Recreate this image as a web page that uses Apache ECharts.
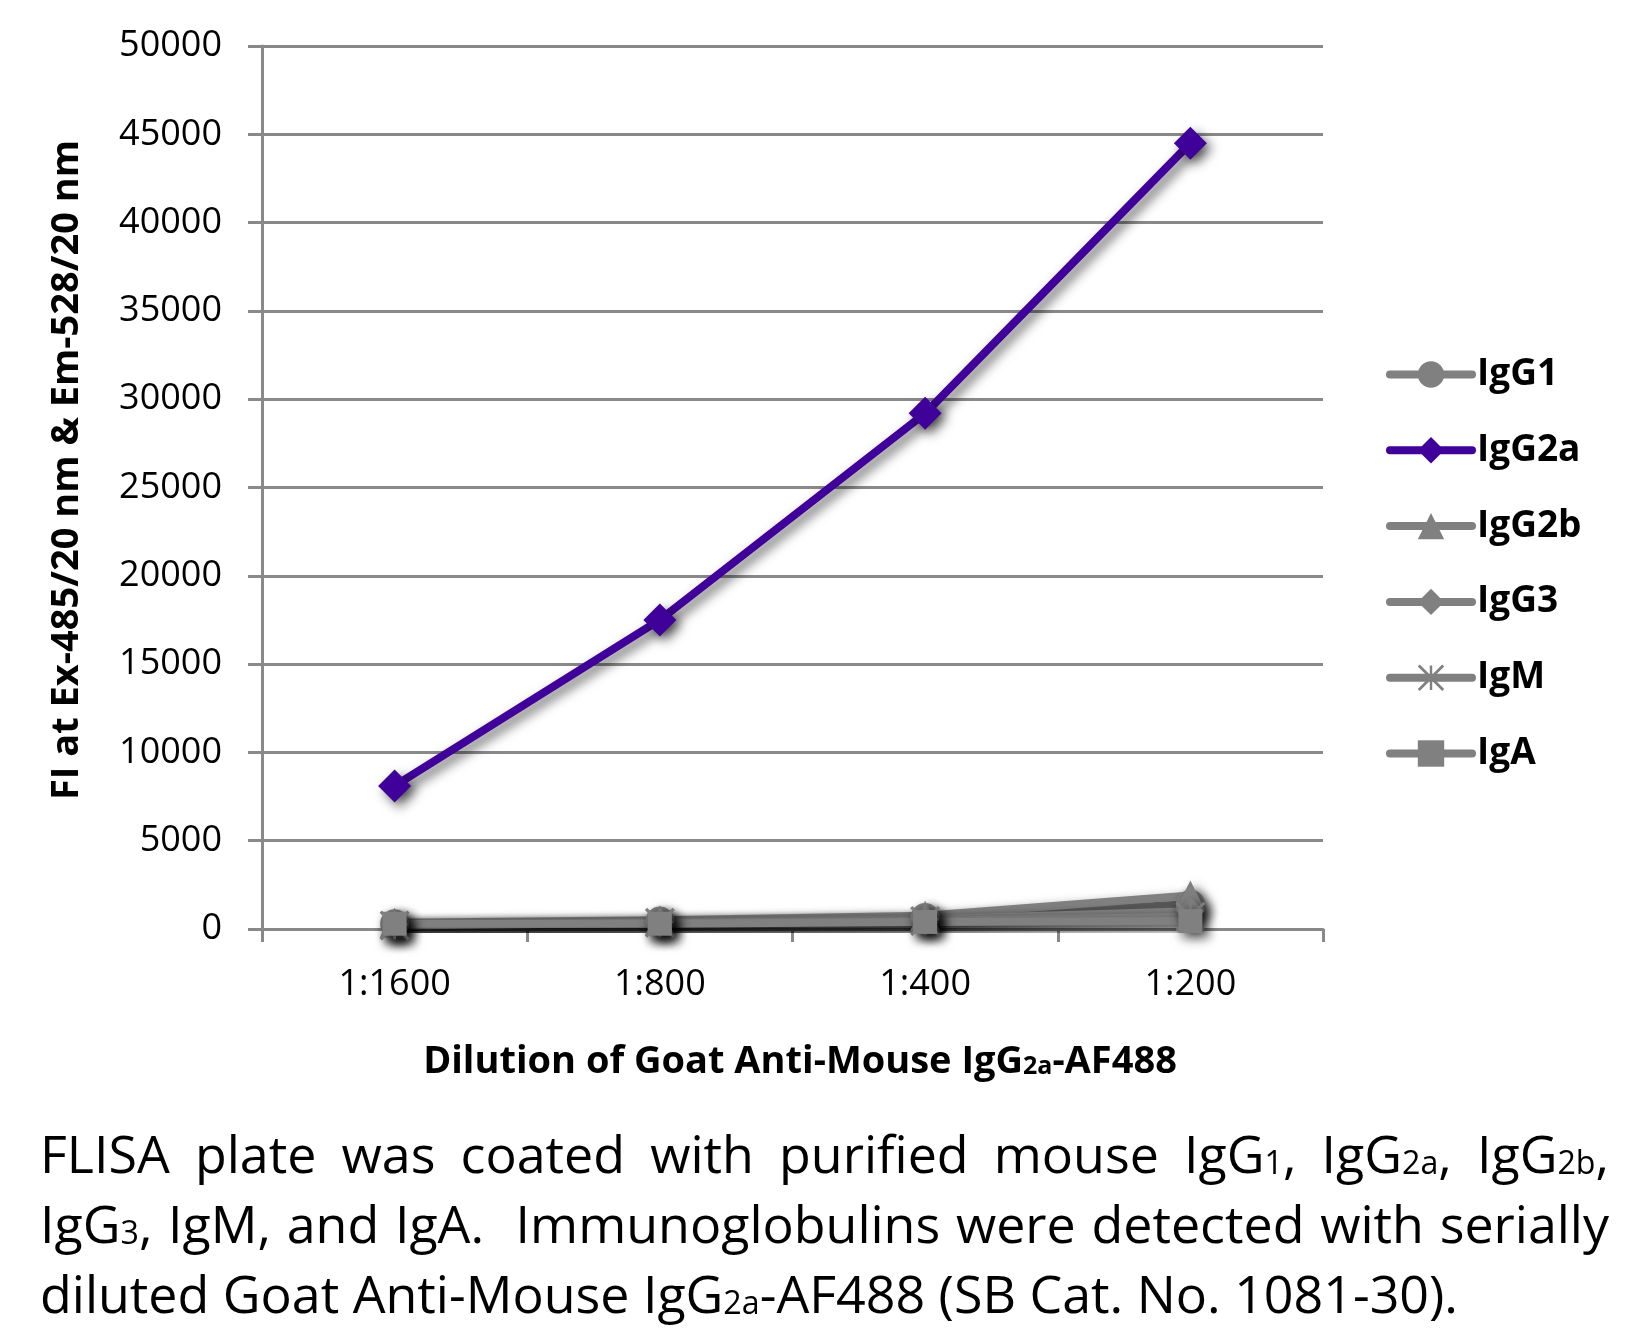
<!DOCTYPE html>
<html>
<head>
<meta charset="utf-8">
<script src="https://cdn.jsdelivr.net/npm/echarts@6/dist/echarts.min.js"></script>
<style>
  html, body { margin: 0; padding: 0; background: #fff; }
  #chart { position: absolute; left: 0; top: 0; width: 1633px; height: 1328px; }
  #caption {
    position: absolute; left: 40px; top: 1118px;
    font-family: "Open Sans", sans-serif; font-size: 52px;
    color: #000; transform-origin: left top; white-space: nowrap;
  }
  #caption .ln { height: 70px; line-height: 70px; text-align: justify; text-align-last: justify; }
  #caption .last { text-align: left; text-align-last: left; }
  #caption .sub { font-size: 0.62em; line-height: 0; position: relative; top: 0.04em; }
</style>
</head>
<body>
<div id="chart"></div>
<div id="caption">
  <div class="ln">FLISA plate was coated with purified mouse IgG<span class="sub">1</span>, IgG<span class="sub">2a</span>, IgG<span class="sub">2b</span>,</div>
  <div class="ln">IgG<span class="sub">3</span>, IgM, and IgA.&nbsp; Immunoglobulins were detected with serially</div>
  <div class="ln last"><span id="l3">diluted Goat Anti-Mouse IgG<span class="sub">2a</span>-AF488 (SB Cat. No. 1081-30).</span></div>
</div>
<script>
const dilutions = ['1:1600', '1:800', '1:400', '1:200'];
const seriesNames = ['IgG1', 'IgG2a', 'IgG2b', 'IgG3', 'IgM', 'IgA'];
const igG1 = [300, 450, 650, 1400];
const igG2a = [8100, 17500, 29200, 44500];
const igG2b = [350, 500, 750, 1900];
const igG3 = [250, 400, 550, 1000];
const igM = [200, 350, 450, 700];
const igA = [300, 300, 400, 450];
const yTicks = { min: 0, max: 50000, interval: 5000 };

const GREY = '#808080';
const PURPLE = '#40009a';
const AXIS = '#898989';
const FONT = '"Open Sans", sans-serif';

// asterisk marker (vertical bar + X), all parts same winding
const ASTERISK = 'path://M45 0L55 0L55 100L45 100Z' +
  'M4 -4L104 96L96 104L-4 4Z' +
  'M104 4L4 104L-4 96L96 -4Z';

const values = [igG1, igG2a, igG2b, igG3, igM, igA];
const symbols = ['circle', 'diamond', 'triangle', 'diamond', ASTERISK, 'rect'];
const sizes = [29, 33, 30, 28, 30, 24];

const shadow = { shadowColor: 'rgba(0,0,0,0.6)', shadowBlur: 12, shadowOffsetX: 5, shadowOffsetY: 5 };

const series = seriesNames.map((name, i) => {
  const color = name === 'IgG2a' ? PURPLE : GREY;
  return {
    name,
    type: 'line',
    data: values[i],
    symbol: symbols[i],
    symbolSize: sizes[i],
    z: name === 'IgG2a' ? 3 : 2,
    lineStyle: { color, width: 8, cap: 'round', join: 'round', ...shadow },
    itemStyle: { color, ...shadow },
    emphasis: { disabled: true }
  };
});

const chart = echarts.init(document.getElementById('chart'));
chart.setOption({
  animation: false,
  grid: { left: 262, right: 310, top: 46, bottom: 399, containLabel: false },
  xAxis: {
    type: 'category',
    data: dilutions,
    boundaryGap: true,
    axisLine: { lineStyle: { color: AXIS, width: 3 } },
    axisTick: { show: true, length: 13, lineStyle: { color: AXIS, width: 3 } },
    axisLabel: { color: '#000', fontFamily: FONT, fontSize: 36, margin: 38 }
  },
  yAxis: {
    type: 'value',
    min: yTicks.min, max: yTicks.max, interval: yTicks.interval,
    axisLine: { show: true, lineStyle: { color: AXIS, width: 3 } },
    axisTick: { show: true, length: 14, lineStyle: { color: AXIS, width: 3 } },
    splitLine: { lineStyle: { color: AXIS, width: 3 } },
    axisLabel: { color: '#000', fontFamily: FONT, fontSize: 36, margin: 40, formatter: v => String(v) }
  },
  legend: {
    orient: 'vertical',
    left: 1381,
    top: 351,
    itemWidth: 82,
    itemHeight: 33,
    itemGap: 38.8,
    selectedMode: false,
    data: seriesNames,
    itemStyle: { shadowBlur: 0, shadowOffsetX: 0, shadowOffsetY: 0 },
    lineStyle: { width: 8, cap: 'round', shadowBlur: 0, shadowOffsetX: 0, shadowOffsetY: 0 },
    textStyle: { color: '#000', fontFamily: FONT, fontWeight: 'bold', fontSize: 37, padding: [0, 0, 0, 0] }
  },
  graphic: [
    {
      type: 'text',
      x: 800, y: 1062,
      style: {
        text: '{t|Dilution of Goat Anti-Mouse IgG}{s|2a}{t|-AF488}',
        align: 'center', verticalAlign: 'middle',
        rich: {
          t: { fontFamily: FONT, fontWeight: 'bold', fontSize: 38, fill: '#000' },
          s: { fontFamily: FONT, fontWeight: 'bold', fontSize: 25, fill: '#000', padding: [9, 0, 0, 0] }
        }
      }
    },
    {
      type: 'text',
      x: 67, y: 470,
      rotation: Math.PI / 2,
      style: {
        text: 'FI at Ex-485/20 nm & Em-528/20 nm',
        align: 'center', verticalAlign: 'middle',
        fontFamily: FONT, fontWeight: 'bold', fontSize: 38, fill: '#000'
      }
    }
  ],
  series
});

// fit the caption's last line to the reference width by condensing horizontally
const cap = document.getElementById('caption');
const w3 = document.getElementById('l3').getBoundingClientRect().width;
const s = 1418 / w3;
cap.style.width = (1569 / s) + 'px';
cap.style.transform = 'scaleX(' + s + ')';
</script>
</body>
</html>
